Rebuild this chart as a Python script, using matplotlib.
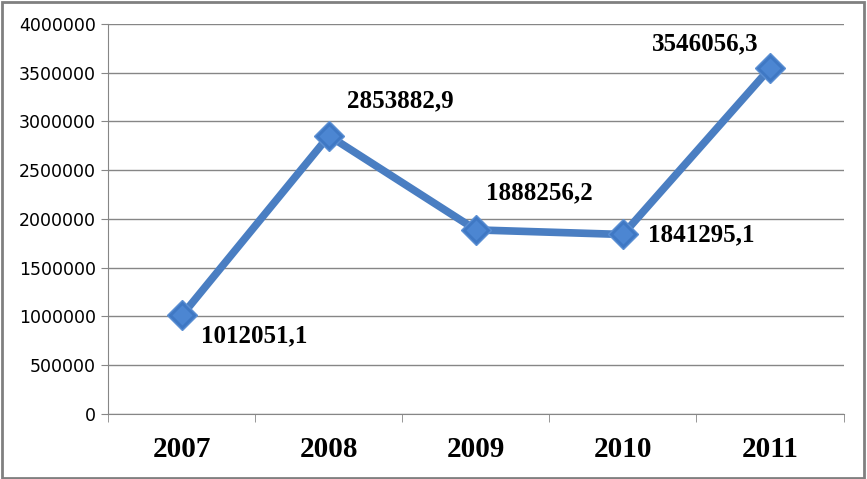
import matplotlib.pyplot as plt
import numpy as np
from matplotlib.patches import Rectangle

years = ['2007', '2008', '2009', '2010', '2011']
values = [1012051.1, 2853882.9, 1888256.2, 1841295.1, 3546056.3]
labels = ['1012051,1', '2853882,9', '1888256,2', '1841295,1', '3546056,3']
# label offsets in pixels (left edge of text, relative to the point)
offsets = [(19, -20), (18, 35), (10, 37), (25, 0), (-118, 24)]

fig = plt.figure(figsize=(8.67, 4.79), dpi=100)
ax = fig.add_axes([0.1251, 0.1357, 0.8478, 0.8142])

ind = np.arange(len(years))
ax.plot(ind, values, color='#4A7EC2', lw=5.5, solid_capstyle='round',
        marker='D', markersize=15.5, markerfacecolor='#3F78C4',
        markeredgecolor='#5B8FD3', markeredgewidth=1, zorder=3)
# soft highlight on the markers
ax.plot(ind, values, ls='none', marker='D', markersize=10,
        markerfacecolor='#4C86D2', markeredgecolor='none', zorder=4)

serif = ['Liberation Serif', 'DejaVu Serif']
for x, y, t, (dx, dy) in zip(ind, values, labels, offsets):
    ax.annotate(t, (x, y), xytext=(dx, dy), textcoords='offset pixels',
                ha='left', va='center', fontsize=18, fontweight='bold',
                family=serif, zorder=5)

ax.set_xlim(-0.5, 4.5)
ax.set_ylim(0, 4000000)
ax.set_yticks(np.arange(0, 4000001, 500000))
ax.set_yticklabels([str(v) for v in range(0, 4000001, 500000)], fontsize=12.5)
ax.yaxis.grid(True, color='#868686', lw=1)
ax.set_axisbelow(True)

ax.set_xticks(ind)
ax.set_xticklabels(years, fontsize=21, fontweight='bold', family=serif)
ax.set_xticks(np.arange(-0.5, 5, 1), minor=True)
ax.tick_params(axis='x', which='major', length=0, pad=16)
ax.tick_params(axis='x', which='minor', length=6, color='#868686')
ax.tick_params(axis='y', length=5, color='#868686', pad=4)

for s in ['top', 'right']:
    ax.spines[s].set_visible(False)
for s in ['left', 'bottom']:
    ax.spines[s].set_color('#868686')

fig.patches.append(Rectangle((0.002, 0.003), 0.994, 0.993, transform=fig.transFigure,
                             fill=False, edgecolor='#808080', lw=2))

plt.savefig('out.png', dpi=100)
